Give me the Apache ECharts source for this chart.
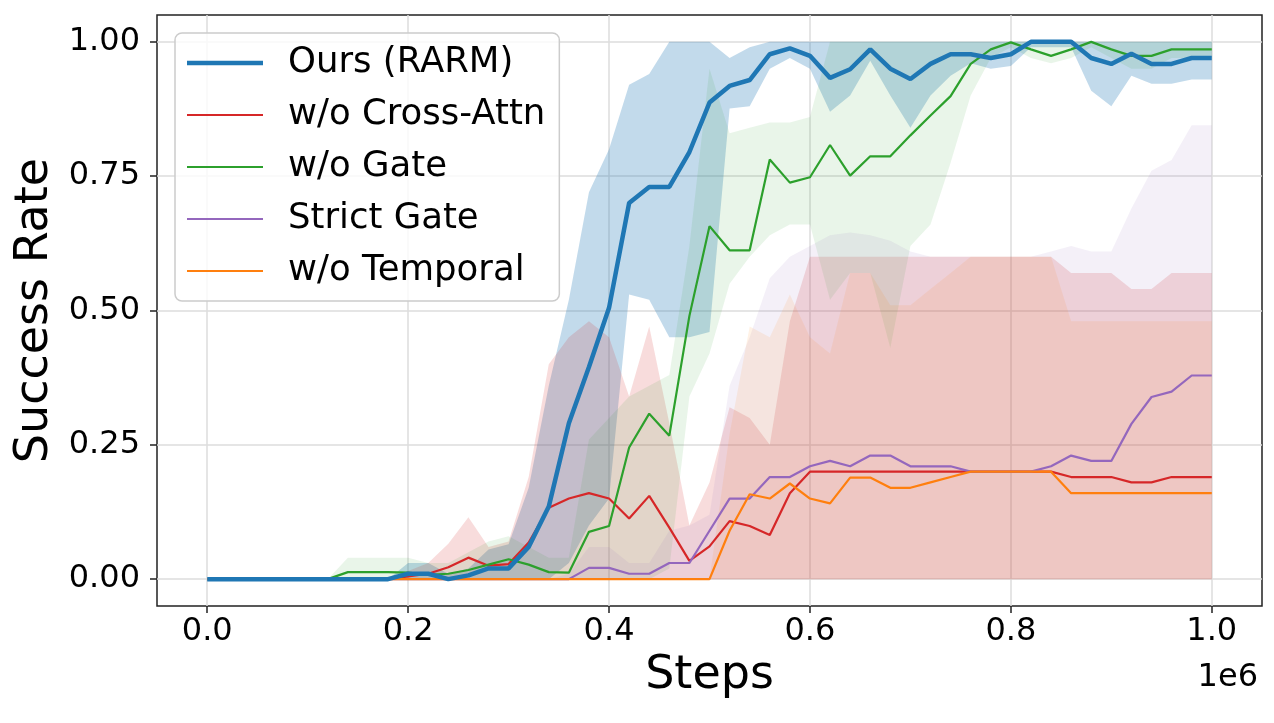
<!DOCTYPE html>
<html>
<head>
<meta charset="utf-8">
<script src="https://cdn.jsdelivr.net/npm/echarts@6/dist/echarts.min.js"></script>
<style>
  html, body { margin: 0; padding: 0; background: #fff; }
  #chart { width: 1274px; height: 723px; }
</style>
</head>
<body>
<div id="chart"></div>
<script>
// steps (x, in units of 1e6)
const steps = [0, 0.02, 0.04, 0.06, 0.08, 0.1, 0.12, 0.14, 0.16, 0.18,
  0.2, 0.22, 0.24, 0.26, 0.28, 0.3, 0.32, 0.34, 0.36, 0.38,
  0.4, 0.42, 0.44, 0.46, 0.48, 0.5, 0.52, 0.54, 0.56, 0.58,
  0.6, 0.62, 0.64, 0.66, 0.68, 0.7, 0.72, 0.74, 0.76, 0.78,
  0.8, 0.82, 0.84, 0.86, 0.88, 0.9, 0.92, 0.94, 0.96, 0.98, 1.0]

const xTicks = [0, 0.2, 0.4, 0.6, 0.8, 1.0]
const yTicks = [0, 0.25, 0.5, 0.75, 1.0]

// Ours (RARM)
const oursMean = [0, 0, 0, 0, 0, 0, 0, 0, 0, 0,
  0.01, 0.01, 0, 0.007, 0.02, 0.02, 0.06, 0.135, 0.29, 0.395,
  0.505, 0.70, 0.73, 0.73, 0.795, 0.887, 0.918, 0.929, 0.977, 0.988,
  0.974, 0.933, 0.949, 0.986, 0.95, 0.931, 0.959, 0.977, 0.977, 0.97,
  0.977, 1.0, 1.0, 1.0, 0.97, 0.959, 0.978, 0.959, 0.959, 0.97, 0.97]
const oursLow = [0, 0, 0, 0, 0, 0, 0, 0, 0, 0,
  0, 0, 0, 0, 0, 0, 0, 0, 0.03, 0.10,
  0.15, 0.53, 0.52, 0.45, 0.45, 0.46, 0.876, 0.88, 0.95, 0.97,
  0.95, 0.87, 0.90, 0.965, 0.90, 0.84, 0.90, 0.937, 0.96, 0.95,
  0.955, 0.99, 0.99, 0.99, 0.909, 0.88, 0.937, 0.922, 0.922, 0.93, 0.93]
const oursHigh = [0, 0, 0, 0, 0, 0, 0, 0, 0, 0,
  0.03, 0.03, 0.01, 0.02, 0.055, 0.065, 0.17, 0.36, 0.52, 0.72,
  0.80, 0.92, 0.94, 1.0, 1.0, 1.0, 0.97, 0.99, 1.0, 1.0,
  1.0, 1.0, 1.0, 1.0, 1.0, 1.0, 1.0, 1.0, 1.0, 1.0,
  1.0, 1.0, 1.0, 1.0, 1.0, 1.0, 1.0, 1.0, 1.0, 1.0, 1.0]

// w/o Cross-Attn
const crossMean = [0, 0, 0, 0, 0, 0, 0, 0, 0, 0,
  0.005, 0.01, 0.022, 0.04, 0.025, 0.028, 0.068, 0.133, 0.15, 0.16,
  0.15, 0.113, 0.155, 0.096, 0.034, 0.061, 0.108, 0.099, 0.082, 0.16,
  0.2, 0.2, 0.2, 0.2, 0.2, 0.2, 0.2, 0.2, 0.2, 0.2,
  0.2, 0.2, 0.2, 0.19, 0.19, 0.19, 0.18, 0.18, 0.19, 0.19, 0.19]
const crossLow = [0, 0, 0, 0, 0, 0, 0, 0, 0, 0,
  0, 0, 0, 0, 0, 0, 0, 0, 0, 0,
  0, 0, 0, 0, 0, 0, 0, 0, 0, 0,
  0, 0, 0, 0, 0, 0, 0, 0, 0, 0,
  0, 0, 0, 0, 0, 0, 0, 0, 0, 0, 0]
const crossHigh = [0, 0, 0, 0, 0, 0, 0, 0, 0, 0,
  0.015, 0.03, 0.066, 0.115, 0.06, 0.07, 0.19, 0.40, 0.45, 0.48,
  0.45, 0.34, 0.47, 0.29, 0.10, 0.18, 0.32, 0.30, 0.25, 0.48,
  0.60, 0.60, 0.60, 0.60, 0.60, 0.60, 0.60, 0.60, 0.60, 0.60,
  0.60, 0.60, 0.60, 0.57, 0.57, 0.57, 0.54, 0.54, 0.57, 0.57, 0.57]

// w/o Gate
const gateMean = [0, 0, 0, 0, 0, 0, 0, 0.013, 0.013, 0.013,
  0.012, 0.008, 0.01, 0.017, 0.027, 0.037, 0.027, 0.013, 0.012, 0.088,
  0.099, 0.245, 0.308, 0.267, 0.49, 0.657, 0.612, 0.612, 0.781, 0.738,
  0.748, 0.808, 0.751, 0.787, 0.787, 0.826, 0.863, 0.899, 0.959, 0.986,
  0.999, 0.986, 0.974, 0.986, 1.0, 0.986, 0.974, 0.974, 0.986, 0.986, 0.986]
const gateLow = [0, 0, 0, 0, 0, 0, 0, 0, 0, 0,
  0, 0, 0, 0, 0, 0, 0, 0, 0, 0,
  0, 0, 0, 0.02, 0.34, 0.42, 0.55, 0.60, 0.64, 0.66,
  0.66, 0.52, 0.57, 0.57, 0.43, 0.62, 0.66, 0.775, 0.90, 0.97,
  0.99, 0.97, 0.96, 0.97, 0.99, 0.97, 0.95, 0.95, 0.97, 0.97, 0.97]
const gateHigh = [0, 0, 0, 0, 0, 0, 0, 0.04, 0.04, 0.04,
  0.04, 0.03, 0.03, 0.05, 0.07, 0.08, 0.06, 0.04, 0.04, 0.26,
  0.30, 0.34, 0.36, 0.38, 0.62, 0.95, 0.83, 0.84, 0.85, 0.85,
  0.86, 1.0, 1.0, 1.0, 1.0, 1.0, 1.0, 1.0, 1.0, 1.0,
  1.0, 1.0, 1.0, 1.0, 1.0, 1.0, 1.0, 1.0, 1.0, 1.0, 1.0]

// Strict Gate
const strictMean = [0, 0, 0, 0, 0, 0, 0, 0, 0, 0,
  0, 0, 0, 0, 0, 0, 0, 0, 0, 0.021,
  0.021, 0.01, 0.01, 0.03, 0.03, 0.09, 0.15, 0.15, 0.19, 0.19,
  0.21, 0.22, 0.21, 0.23, 0.23, 0.21, 0.21, 0.21, 0.2, 0.2,
  0.2, 0.2, 0.21, 0.23, 0.22, 0.22, 0.289, 0.339, 0.349, 0.379, 0.379]
const strictLow = [0, 0, 0, 0, 0, 0, 0, 0, 0, 0,
  0, 0, 0, 0, 0, 0, 0, 0, 0, 0,
  0, 0, 0, 0, 0, 0, 0, 0, 0, 0,
  0, 0, 0, 0, 0, 0, 0, 0, 0, 0,
  0, 0, 0, 0, 0, 0, 0, 0, 0, 0, 0]
const strictHigh = [0, 0, 0, 0, 0, 0, 0, 0, 0, 0,
  0, 0, 0, 0, 0, 0, 0, 0, 0.01, 0.06,
  0.06, 0.03, 0.03, 0.09, 0.10, 0.12, 0.36, 0.45, 0.56, 0.60,
  0.62, 0.64, 0.645, 0.64, 0.63, 0.61, 0.60, 0.60, 0.60, 0.60,
  0.60, 0.60, 0.61, 0.62, 0.61, 0.61, 0.69, 0.76, 0.78, 0.845, 0.845]

// w/o Temporal
const tempMean = [0, 0, 0, 0, 0, 0, 0, 0, 0, 0,
  0, 0, 0, 0, 0, 0, 0, 0, 0, 0,
  0, 0, 0, 0, 0, 0, 0.09, 0.158, 0.15, 0.178,
  0.15, 0.141, 0.189, 0.189, 0.17, 0.17, 0.18, 0.19, 0.2, 0.2,
  0.2, 0.2, 0.2, 0.16, 0.16, 0.16, 0.16, 0.16, 0.16, 0.16, 0.16]
const tempLow = [0, 0, 0, 0, 0, 0, 0, 0, 0, 0,
  0, 0, 0, 0, 0, 0, 0, 0, 0, 0,
  0, 0, 0, 0, 0, 0, 0, 0, 0, 0,
  0, 0, 0, 0, 0, 0, 0, 0, 0, 0,
  0, 0, 0, 0, 0, 0, 0, 0, 0, 0, 0]
const tempHigh = [0, 0, 0, 0, 0, 0, 0, 0, 0, 0,
  0, 0, 0, 0, 0, 0, 0, 0, 0, 0,
  0, 0, 0, 0, 0, 0, 0.27, 0.47, 0.45, 0.53,
  0.45, 0.42, 0.57, 0.57, 0.51, 0.51, 0.54, 0.57, 0.60, 0.60,
  0.60, 0.60, 0.60, 0.48, 0.48, 0.48, 0.48, 0.48, 0.48, 0.48, 0.48]

const FONT = 'DejaVu Sans'

const runs = [
  { name: 'Ours (RARM)', mean: oursMean, low: oursLow, high: oursHigh, color: '#1f77b4', width: 4.5, alpha: 0.27, z: 5 },
  { name: 'w/o Cross-Attn', mean: crossMean, low: crossLow, high: crossHigh, color: '#d62728', width: 2.2, alpha: 0.16, z: 4 },
  { name: 'w/o Gate', mean: gateMean, low: gateLow, high: gateHigh, color: '#2ca02c', width: 2.2, alpha: 0.1, z: 4 },
  { name: 'Strict Gate', mean: strictMean, low: strictLow, high: strictHigh, color: '#9467bd', width: 2.2, alpha: 0.1, z: 4 },
  { name: 'w/o Temporal', mean: tempMean, low: tempLow, high: tempHigh, color: '#ff7f0e', width: 2.2, alpha: 0.1, z: 4 }
]

// 阴影带：用 custom series 画 lower~upper 之间的多边形
function bandSeries(run) {
  return {
    name: run.name + '-band', type: 'custom', silent: true, z: 2,
    data: steps.map((x, i) => [x, run.low[i], run.high[i]]),
    encode: { x: 0, y: [1, 2] },
    renderItem: (params, api) => {
      if (params.dataIndex !== 0) return
      const pts = []
      for (let i = 0; i < steps.length; i++) pts.push(api.coord([steps[i], run.high[i]]))
      for (let i = steps.length - 1; i >= 0; i--) pts.push(api.coord([steps[i], run.low[i]]))
      return {
        type: 'polygon',
        shape: { points: pts },
        style: { fill: run.color, opacity: run.alpha }
      }
    }
  }
}

function meanSeries(run) {
  return {
    name: run.name, type: 'line', symbol: 'none', z: run.z,
    color: run.color,
    lineStyle: { color: run.color, width: run.width },
    data: steps.map((x, i) => [x, run.mean[i]])
  }
}

// 图例图标：只画线段（加两个极小的点撑开包围盒，避免被拉伸）
function lineIcon(t) {
  const a = (7 - t / 2).toFixed(2)
  const b = (7 + t / 2).toFixed(2)
  return `path://M0,${a}H76V${b}H0Z M0,0H0.01V0.01H0Z M75.99,13.99H76V14H75.99Z`
}

const series = []
runs.forEach(r => series.push(bandSeries(r)))
runs.slice(1).forEach(r => series.push(meanSeries(r)))
series.push(meanSeries(runs[0]))

const chart = echarts.init(document.getElementById('chart'))

chart.setOption({
  animation: false,
  backgroundColor: '#ffffff',
  grid: {
    left: 157, right: 12, top: 15, bottom: 117,
    show: true, borderColor: '#222', borderWidth: 1.5, backgroundColor: 'transparent'
  },
  legend: {
    data: runs.map(r => ({ name: r.name, icon: lineIcon(r.width) })),
    orient: 'vertical',
    left: 175, top: 33,
    padding: [10, 14, 10, 12],
    itemGap: 12,
    itemWidth: 76, itemHeight: 14,
    backgroundColor: 'rgba(255,255,255,0.8)',
    borderColor: '#cccccc', borderWidth: 1.5, borderRadius: 7,
    textStyle: { fontFamily: FONT, fontSize: 35.5, color: '#000', lineHeight: 40, padding: [0, 0, 0, 20] }
  },
  xAxis: {
    type: 'value', min: -0.05, max: 1.05,
    name: 'Steps', nameLocation: 'middle', nameGap: 43,
    nameTextStyle: { fontFamily: FONT, fontSize: 46, color: '#000' },
    axisLine: { show: false, onZero: false },
    axisTick: { show: true, length: 7, customValues: xTicks, lineStyle: { color: '#222', width: 1.5 } },
    axisLabel: { customValues: xTicks, fontFamily: FONT, fontSize: 32, color: '#000', margin: 10, formatter: v => v.toFixed(1) },
    splitLine: { show: true, lineStyle: { color: '#dcdcdc', width: 1.5 } }
  },
  yAxis: {
    type: 'value', min: -0.05, max: 1.05,
    name: 'Success Rate', nameLocation: 'middle', nameGap: 93,
    nameTextStyle: { fontFamily: FONT, fontSize: 46, color: '#000' },
    axisLine: { show: false, onZero: false },
    axisTick: { show: true, length: 7, customValues: yTicks, lineStyle: { color: '#222', width: 1.5 } },
    axisLabel: { customValues: yTicks, fontFamily: FONT, fontSize: 32, color: '#000', margin: 17, formatter: v => v.toFixed(2) },
    splitLine: { show: true, lineStyle: { color: '#dcdcdc', width: 1.5 } }
  },
  graphic: [{
    type: 'text', right: 16, top: 662,
    style: { text: '1e6', fontFamily: FONT, fontSize: 32, fill: '#000' }
  }],
  series: series
})
</script>
</body>
</html>
